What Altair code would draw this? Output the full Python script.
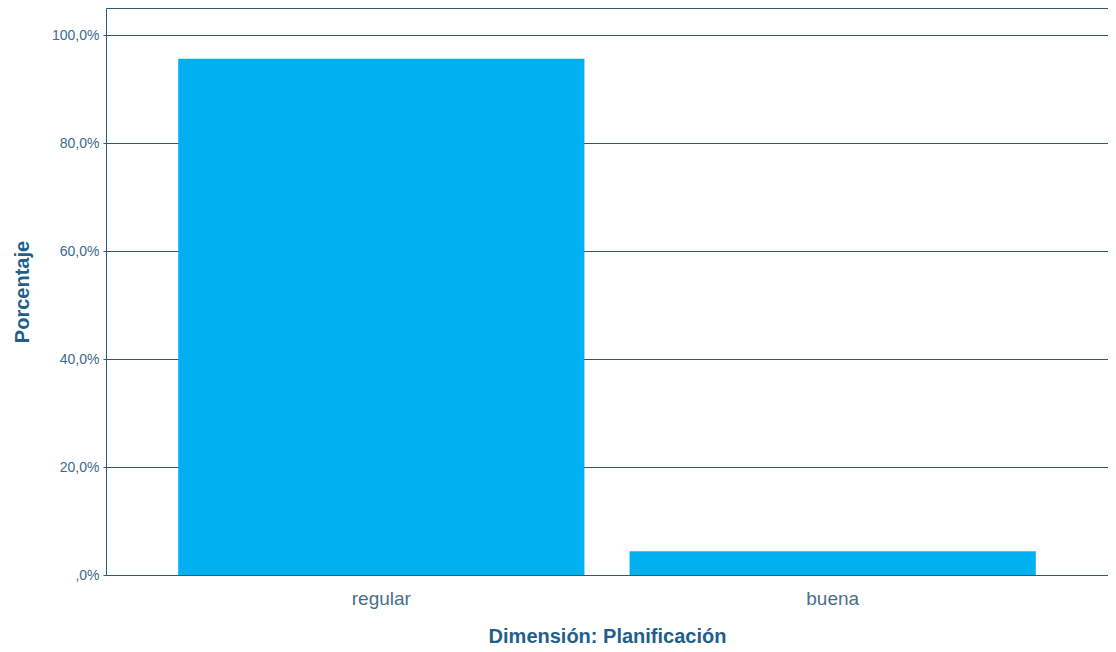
import altair as alt
import pandas as pd

categories = ["regular", "buena"]
percentages = [95.6, 4.4]
y_ticks = [0, 20, 40, 60, 80, 100]

df = pd.DataFrame({"cat": categories, "pct": percentages})

frame = "#2c5a78"
text_col = "#1f5f8b"

chart = alt.Chart(df).mark_bar(color="#00B0F0").encode(
    x=alt.X(
        "cat:N",
        sort=categories,
        title="Dimensión: Planificación",
        scale=alt.Scale(paddingInner=0.1, paddingOuter=0.16),
        axis=alt.Axis(
            labelAngle=0,
            labelFontSize=19,
            labelColor="#4a6f8c",
            labelFont="Liberation Sans",
            labelPadding=14,
            ticks=False,
            domain=False,
            titleFontSize=20,
            titleFont="Liberation Sans",
            titleFontWeight="bold",
            titleColor=text_col,
            titlePadding=18,
        ),
    ),
    y=alt.Y(
        "pct:Q",
        title="Porcentaje",
        scale=alt.Scale(domain=[0, 105], nice=False),
        axis=alt.Axis(
            values=y_ticks,
            labelExpr="datum.value == 0 ? ',0%' : replace(format(datum.value, '.1f'), '.', ',') + '%'",
            labelFontSize=14,
            labelColor="#3a6a90",
            labelFont="Liberation Sans",
            labelPadding=4,
            tickSize=3,
            tickColor=frame,
            domain=False,
            grid=True,
            gridColor=frame,
            gridOpacity=1,
            gridWidth=1,
            titleFontSize=20,
            titleFont="Liberation Sans",
            titleFontWeight="bold",
            titleColor=text_col,
            titlePadding=19,
        ),
    ),
).properties(
    width=1002,
    height=567,
    autosize=alt.AutoSizeParams(type="none"),
    padding={"left": 98, "top": 0, "right": 0, "bottom": 76},
    background="white",
).configure_view(
    stroke=frame,
    strokeWidth=1,
)

chart.save("out.html", embed_options={"renderer": "svg", "actions": False})
